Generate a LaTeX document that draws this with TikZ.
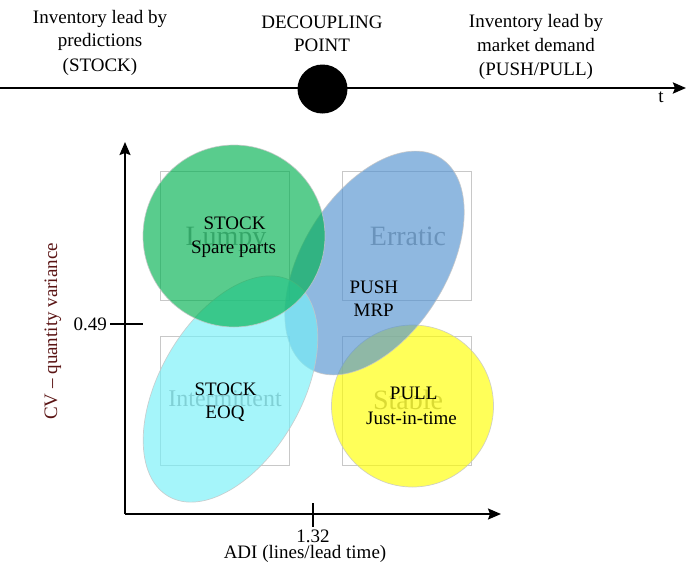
\documentclass[tikz,border=0pt]{standalone}
\usepackage{fontspec}
\setmainfont{Liberation Serif}
\usetikzlibrary{arrows.meta,shapes.geometric}
\definecolor{cgreen}{RGB}{0,176,80}
\definecolor{cblue}{RGB}{83,146,208}
\definecolor{ccyan}{RGB}{117,240,248}
\definecolor{cyell}{RGB}{255,255,0}
\definecolor{boxgray}{RGB}{200,200,200}
\definecolor{lblgray}{RGB}{150,150,150}
\definecolor{cvred}{RGB}{90,20,20}
\begin{document}
\begin{tikzpicture}[x=1pt,y=-1pt,
  txt/.style={font=\fontsize{19}{24}\selectfont, inner sep=0pt, anchor=base},
  biglbl/.style={font=\fontsize{28}{32}\selectfont, text=lblgray, inner sep=0pt, anchor=base},
  seg/.style={draw=boxgray, line width=1.2pt, minimum width=129pt, minimum height=129pt, inner sep=0pt},
  blob/.style={draw=gray!45, line width=0.7pt, fill opacity=0.65, draw opacity=0.8, inner sep=0pt},
  axisarrow/.style={line width=1.8pt, -{Stealth[length=13pt,width=11pt,inset=2pt]}},
  tickline/.style={line width=1.5pt}]
\useasboundingbox (0,0) rectangle (686,582);
% timeline
\coordinate (tl0) at (0,88);
\coordinate (tl1) at (686,88);
\draw[line width=2.4pt, -{Stealth[length=13pt,width=11pt,inset=2pt]}] (tl0) -- (tl1);
\node[ellipse, fill=black, minimum width=50pt, minimum height=49pt, inner sep=0pt] (dp) at (322.5,89) {};
\node[txt] (l1) at (100,23.5) {Inventory lead by};
\node[txt] (l2) at (100,46.5) {predictions};
\node[txt] (l3) at (100,71) {(STOCK)};
\node[txt] (c1) at (322,28.3) {DECOUPLING};
\node[txt] (c2) at (322,51) {POINT};
\node[txt] (r1) at (536,27) {Inventory lead by};
\node[txt] (r2) at (536,51) {market demand};
\node[txt] (r3) at (536,75) {(PUSH/PULL)};
\node[txt] (tlab) at (661,102) {t};
% segments
\node[seg] (lumpybox) at (225,236) {};
\node[seg] (erraticbox) at (407,236) {};
\node[seg] (intbox) at (225,401) {};
\node[seg] (stablebox) at (407,401) {};
\node[biglbl] (lumpy) at (226,245) {Lumpy};
\node[biglbl] (erratic) at (408,245) {Erratic};
\node[biglbl, font=\fontsize{24}{28}\selectfont] (intermittent) at (225,406) {Intermittent};
\node[biglbl] (stable) at (408,409) {Stable};
% blobs
\node[blob, circle, fill=cyell, minimum size=162pt] (pull) at (412.5,406) {};
\node[blob, ellipse, fill=cblue, minimum width=248pt, minimum height=144pt, rotate=58] (push) at (374.5,263) {};
\node[blob, ellipse, fill=ccyan, minimum width=248pt, minimum height=142pt, rotate=60] (eoq) at (230.5,389) {};
\node[blob, circle, fill=cgreen, minimum size=182pt] (spare) at (234,236) {};
% blob texts
\node[txt] (sp1) at (234.5,229) {STOCK};
\node[txt] (sp2) at (233.5,253) {Spare parts};
\node[txt] (pu1) at (373.8,293) {PUSH};
\node[txt] (pu2) at (373.7,316.7) {MRP};
\node[txt] (eo1) at (225.5,395) {STOCK};
\node[txt] (eo2) at (225,418) {EOQ};
\node[txt] (pl1) at (413.7,399) {PULL};
\node[txt] (pl2) at (411.5,424) {Just-in-time};
% axes
\coordinate (O) at (125,514);
\coordinate (ytop) at (125,142);
\coordinate (xend) at (501,514);
\draw[axisarrow] (O) -- (ytop);
\draw[axisarrow] (O) -- (xend);
\coordinate (ty0) at (110,324);
\coordinate (ty1) at (143,324);
\coordinate (tx0) at (313,503);
\coordinate (tx1) at (313,527);
\draw[tickline] (ty0) -- (ty1);
\draw[tickline] (tx0) -- (tx1);
\node[txt, anchor=base east] (v049) at (107,330) {0.49};
\node[txt] (v132) at (313,542) {1.32};
\node[txt] (adi) at (305,558) {ADI (lines/lead time)};
\node[font=\fontsize{19}{24}\selectfont, text=cvred, inner sep=0pt, rotate=90] (cv) at (53,331.5) {CV – quantity variance};
\end{tikzpicture}
\end{document}
